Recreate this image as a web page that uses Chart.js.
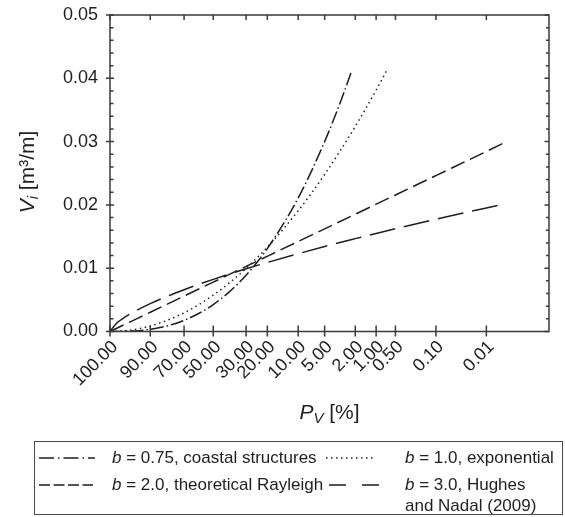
<!DOCTYPE html>
<html>
<head>
<meta charset="utf-8">
<script src="https://cdn.jsdelivr.net/npm/chart.js@4/dist/chart.umd.min.js"></script>
<style>
  html, body { margin: 0; padding: 0; background: #fff; }
  canvas { display: block; }
</style>
</head>
<body>
<canvas id="chart" width="565" height="517"></canvas>
<script>
// exceedance probability ticks [%]
const pvTickValues = [100, 90, 70, 50, 30, 20, 10, 5, 2, 1, 0.5, 0.1, 0.01];
const pvTickLabels = ["100.00", "90.00", "70.00", "50.00", "30.00", "20.00", "10.00", "5.00", "2.00", "1.00", "0.50", "0.10", "0.01"];

// b = 0.75, coastal structures
const pvB075 = [100, 99, 97, 95, 90, 80, 70, 60, 50, 40, 30, 20, 10, 5, 3, 2.24];
const vB075 = [0, 0.000015, 0.000066, 0.00013, 0.00035, 0.00094, 0.00176, 0.00284, 0.00426, 0.00619, 0.0089, 0.0131, 0.0211, 0.0300, 0.0370, 0.0412];

// b = 1.0, exponential
const pvB1 = [100, 99, 97, 95, 90, 80, 70, 60, 50, 40, 30, 20, 10, 5, 2, 1, 0.69];
const vB1 = [0, 0.00008, 0.00025, 0.00043, 0.00087, 0.00185, 0.00295, 0.00423, 0.00574, 0.00759, 0.00997, 0.01333, 0.01907, 0.02481, 0.03239, 0.03813, 0.0412];

// b = 2.0, theoretical Rayleigh
const pvB2 = [100, 99, 95, 90, 70, 50, 30, 10, 2, 0.5, 0.1, 0.01, 0.0036];
const vB2 = [0, 0.00094, 0.00212, 0.00304, 0.0056, 0.0078, 0.01028, 0.01422, 0.01853, 0.02157, 0.02463, 0.02844, 0.0300];

// b = 3.0, Hughes and Nadal (2009)
const pvB3 = [100, 99.7, 99, 97, 95, 90, 80, 70, 60, 50, 40, 30, 20, 10, 5, 2, 1, 0.5, 0.1, 0.01, 0.0051];
const vB3 = [0, 0.00134, 0.00201, 0.00291, 0.00346, 0.0044, 0.00565, 0.0066, 0.00744, 0.00824, 0.00904, 0.00991, 0.01091, 0.01229, 0.01343, 0.01467, 0.01549, 0.01623, 0.01774, 0.01952, 0.0200];

const FONT = "'Liberation Sans', Arial, sans-serif";
const INK = "#1e1e1e";
const AXIS = "#3a3a3a";

// Rayleigh probability paper: axis position = sqrt(-ln(Pv))
const pvToAxis = (pv) => Math.sqrt(Math.abs(Math.log(pv / 100)));

function toPoints(pv, v) {
  return pv.map((p, i) => ({ x: pvToAxis(p), y: v[i] }));
}

const series = [
  { label: "b075", data: toPoints(pvB075, vB075), dash: [13, 3, 1.5, 3] },
  { label: "b1", data: toPoints(pvB1, vB1), dash: [1.5, 3.5] },
  { label: "b2", data: toPoints(pvB2, vB2), dash: [15, 6] },
  { label: "b3", data: toPoints(pvB3, vB3), dash: [26, 9] },
];

// draws "b = ..." style text with an italic lead symbol
function mixedText(ctx, parts, x, y) {
  let cx = x;
  parts.forEach((p) => {
    ctx.font = (p.italic ? "italic " : "") + p.size + "px " + FONT;
    ctx.fillText(p.text, cx, y + (p.dy || 0));
    cx += ctx.measureText(p.text).width;
  });
  return cx - x;
}

function mixedWidth(ctx, parts) {
  let w = 0;
  parts.forEach((p) => {
    ctx.font = (p.italic ? "italic " : "") + p.size + "px " + FONT;
    w += ctx.measureText(p.text).width;
  });
  return w;
}

const framePlugin = {
  id: "frame",
  afterDraw(chart) {
    const { ctx, chartArea: a, scales } = chart;
    const xs = scales.x, ys = scales.y;
    ctx.save();
    ctx.strokeStyle = AXIS;
    ctx.lineWidth = 1.5;
    ctx.setLineDash([]);
    ctx.strokeRect(a.left, a.top, a.right - a.left, a.bottom - a.top);

    ctx.beginPath();
    pvTickValues.forEach((p) => {
      const px = xs.getPixelForValue(pvToAxis(p));
      ctx.moveTo(px, a.bottom - 6);
      ctx.lineTo(px, a.bottom + 5);
      ctx.moveTo(px, a.top);
      ctx.lineTo(px, a.top + 5);
    });
    for (let i = 0; i <= 25; i++) {
      const py = ys.getPixelForValue(i * 0.002);
      const major = i % 5 === 0;
      if (major) {
        ctx.moveTo(a.left - 4, py);
        ctx.lineTo(a.left + 4, py);
        ctx.moveTo(a.right - 4.5, py);
        ctx.lineTo(a.right, py);
      } else {
        ctx.moveTo(a.left, py);
        ctx.lineTo(a.left + 3.5, py);
        ctx.moveTo(a.right - 3, py);
        ctx.lineTo(a.right, py);
      }
    }
    ctx.stroke();

    // axis titles
    ctx.fillStyle = INK;
    ctx.textBaseline = "alphabetic";
    ctx.textAlign = "left";
    const xTitle = [
      { text: "P", italic: true, size: 21 },
      { text: "V", italic: true, size: 15, dy: 4 },
      { text: " [%]", size: 21 },
    ];
    const xw = mixedWidth(ctx, xTitle);
    mixedText(ctx, xTitle, (a.left + a.right) / 2 - xw / 2, 419);

    const yTitle = [
      { text: "V", italic: true, size: 21 },
      { text: "i", italic: true, size: 15, dy: 4 },
      { text: " [m\u00b3/m]", size: 21 },
    ];
    const yw = mixedWidth(ctx, yTitle);
    ctx.save();
    ctx.translate(34, 172);
    ctx.rotate(-Math.PI / 2);
    mixedText(ctx, yTitle, -yw / 2, 0);
    ctx.restore();

    // legend box
    ctx.strokeStyle = "#4a4a4a";
    ctx.lineWidth = 1;
    ctx.strokeRect(34.5, 441.5, 528, 73);

    const rows = [
      { x0: 39, x1: 95, y: 458, dash: [15, 4, 1.5, 4], tx: 112,
        lines: [[{ text: "b", italic: true, size: 17 }, { text: " = 0.75, coastal structures", size: 17 }]] },
      { x0: 326, x1: 376, y: 458, dash: [1.5, 3.5], tx: 405,
        lines: [[{ text: "b", italic: true, size: 17 }, { text: " = 1.0, exponential", size: 17 }]] },
      { x0: 39, x1: 93, y: 485, dash: [11, 3.5], tx: 112,
        lines: [[{ text: "b", italic: true, size: 17 }, { text: " = 2.0, theoretical Rayleigh", size: 17 }]] },
      { x0: 329, x1: 379, y: 485, dash: [17, 16], tx: 405,
        lines: [[{ text: "b", italic: true, size: 17 }, { text: " = 3.0, Hughes", size: 17 }],
                [{ text: "and Nadal (2009)", size: 17 }]] },
    ];
    rows.forEach((r) => {
      ctx.strokeStyle = INK;
      ctx.lineWidth = 1.5;
      ctx.setLineDash(r.dash);
      ctx.beginPath();
      ctx.moveTo(r.x0, r.y);
      ctx.lineTo(r.x1, r.y);
      ctx.stroke();
      ctx.setLineDash([]);
      ctx.textBaseline = "middle";
      r.lines.forEach((ln, k) => mixedText(ctx, ln, r.tx, r.y + k * 21));
    });
    ctx.restore();
  },
};

new Chart(document.getElementById("chart"), {
  type: "line",
  data: {
    datasets: series.map((s) => ({
      label: s.label,
      data: s.data,
      borderColor: INK,
      borderWidth: 1.5,
      borderDash: s.dash,
      pointRadius: 0,
      fill: false,
      cubicInterpolationMode: "monotone",
    })),
  },
  options: {
    responsive: false,
    animation: false,
    events: [],
    layout: { padding: { top: 15, right: 16, left: 0, bottom: 0 } },
    plugins: { legend: { display: false }, tooltip: { enabled: false } },
    scales: {
      x: {
        type: "linear",
        min: 0,
        max: 3.54,
        grid: { display: false, drawTicks: false },
        border: { display: false },
        afterBuildTicks: (scale) => {
          scale.ticks = pvTickValues.map((p) => ({ value: pvToAxis(p) }));
        },
        afterFit: (scale) => { scale.height = 185.5; },
        ticks: {
          autoSkip: false,
          minRotation: 45,
          maxRotation: 45,
          padding: 5,
          labelOffset: 5,
          color: INK,
          font: { family: FONT, size: 18 },
          callback: (value, index) => pvTickLabels[index],
        },
      },
      y: {
        min: 0,
        max: 0.05,
        grid: { display: false, drawTicks: false },
        border: { display: false },
        afterFit: (scale) => {
          scale.width = 110;
          scale.paddingTop = 0;
          scale.paddingBottom = 0;
        },
        ticks: {
          stepSize: 0.01,
          padding: 12,
          color: INK,
          font: { family: FONT, size: 18 },
          callback: (value) => value.toFixed(2),
        },
      },
    },
  },
  plugins: [framePlugin],
});
</script>
</body>
</html>
